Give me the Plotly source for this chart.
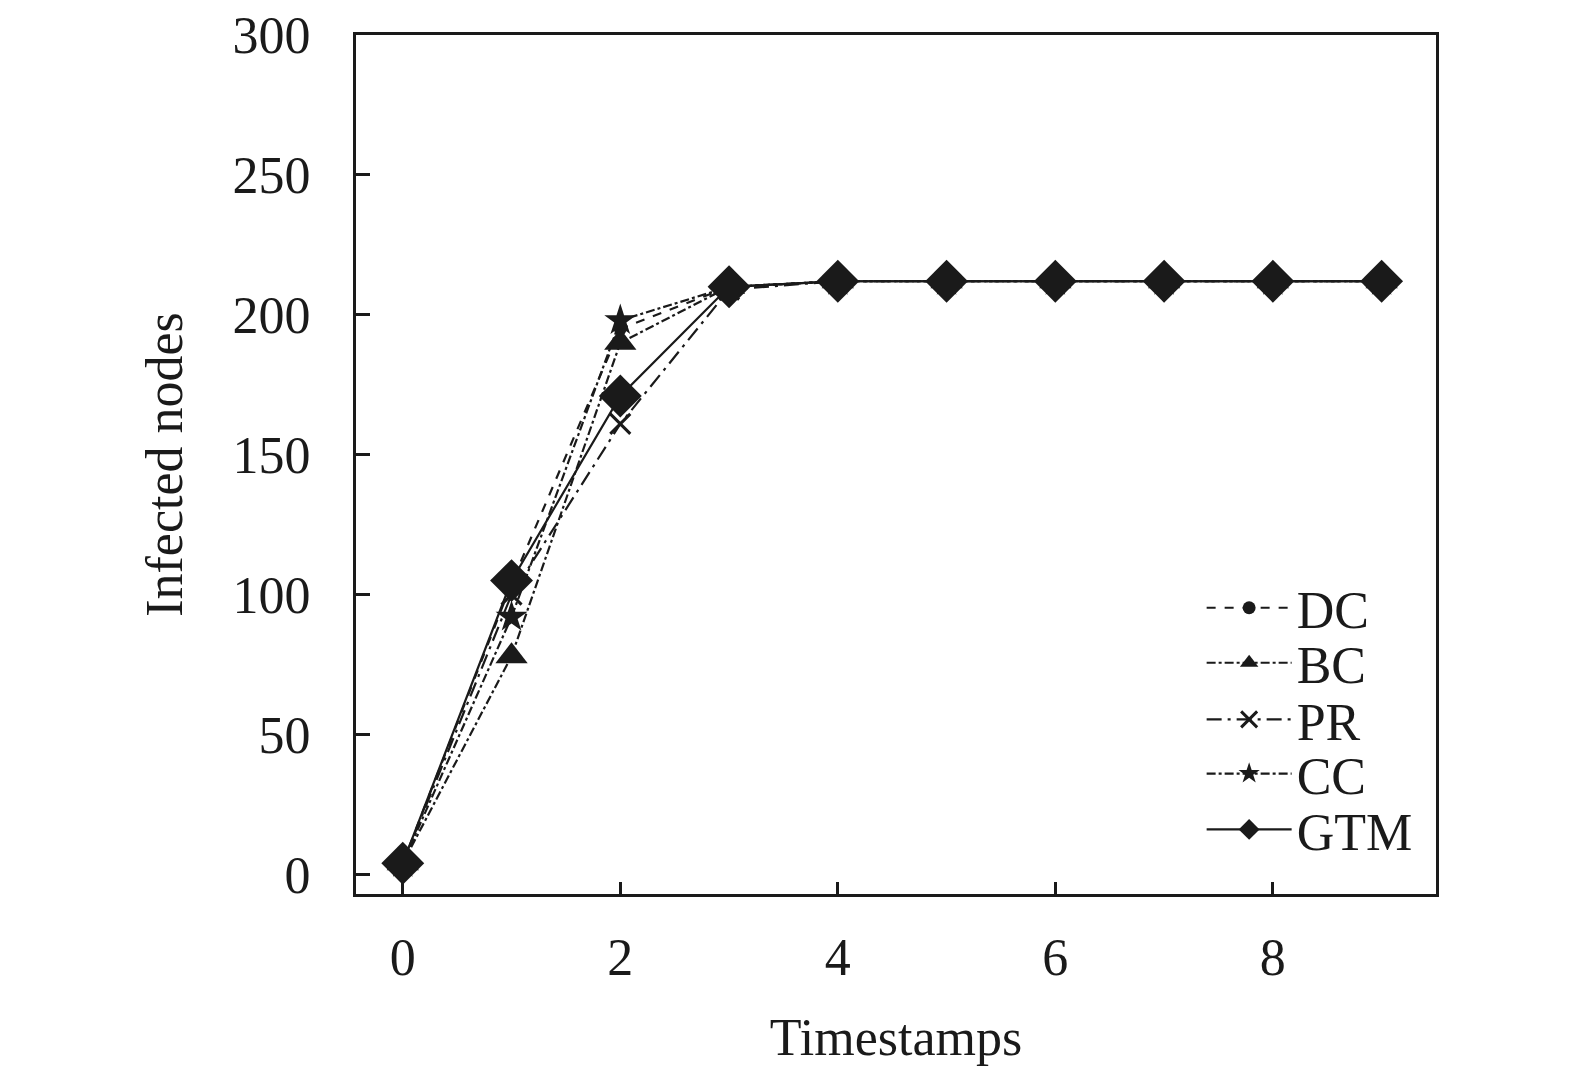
import plotly.graph_objects as go

timestamps = [0, 1, 2, 3, 4, 5, 6, 7, 8, 9]
dc = [4, 104, 195, 210, 212, 212, 212, 212, 212, 212]
bc = [4, 78, 190, 210, 212, 212, 212, 212, 212, 212]
pr = [4, 100, 161, 209, 212, 212, 212, 212, 212, 212]
cc = [4, 92, 198, 210, 212, 212, 212, 212, 212, 212]
gtm = [4, 105, 171, 210, 212, 212, 212, 212, 212, 212]

ink = "#1a1a1a"
serif = "Liberation Serif, Times New Roman, serif"

# name, values, marker, size, dash, legend row (paper y)
series = [
    ("DC", dc, "circle", 13, "dash", 0.333),
    ("BC", bc, "triangle-up", 28, "dashdot", 0.269),
    ("PR", pr, "x-thin-open", 20, "longdashdot", 0.203),
    ("CC", cc, "star", 24, "dashdot", 0.140),
    ("GTM", gtm, "diamond", 33, "solid", 0.075),
]

fig = go.Figure()
legends = {}
for i, (name, vals, sym, size, dash, ly) in enumerate(series):
    key = "legend" if i == 0 else f"legend{i + 1}"
    fig.add_trace(go.Scatter(
        x=timestamps, y=vals, name=name, mode="lines+markers",
        legend=key, showlegend=True,
        line=dict(color=ink, width=2.2, dash=dash),
        marker=dict(symbol=sym, size=size, color=ink,
                    line=dict(color=ink, width=3 if sym == "x-thin-open" else 0)),
    ))
    legends[key] = dict(x=0.783, y=ly, xanchor="left", yanchor="middle",
                        bgcolor="rgba(0,0,0,0)", font=dict(size=52),
                        itemwidth=85, visible=True)

fig.update_layout(
    width=1575, height=1071,
    paper_bgcolor="white", plot_bgcolor="white",
    margin=dict(l=348, r=147, t=27, b=185),
    font=dict(family=serif, size=52, color=ink),
    showlegend=True,
    **legends,
)
fig.update_xaxes(
    range=[-0.43, 9.5], tickvals=[0, 2, 4, 6, 8],
    ticks="inside", ticklen=12, tickwidth=3, tickcolor=ink,
    showline=True, linecolor=ink, linewidth=3, mirror=True,
    showgrid=False, zeroline=False, automargin=False,
    title=dict(text="Timestamps", standoff=34, font=dict(size=52)),
    ticklabelstandoff=16, ticklabeloverflow="allow",
)
fig.update_yaxes(
    range=[-7, 300], tickvals=[0, 50, 100, 150, 200, 250, 300],
    ticks="inside", ticklen=14, tickwidth=3, tickcolor=ink,
    showline=True, linecolor=ink, linewidth=3, mirror=True,
    showgrid=False, zeroline=False, automargin=False,
    title=dict(text="Infected nodes", standoff=34, font=dict(size=52)),
    ticklabelstandoff=32, ticklabeloverflow="allow",
)

fig.write_html("out.html")
